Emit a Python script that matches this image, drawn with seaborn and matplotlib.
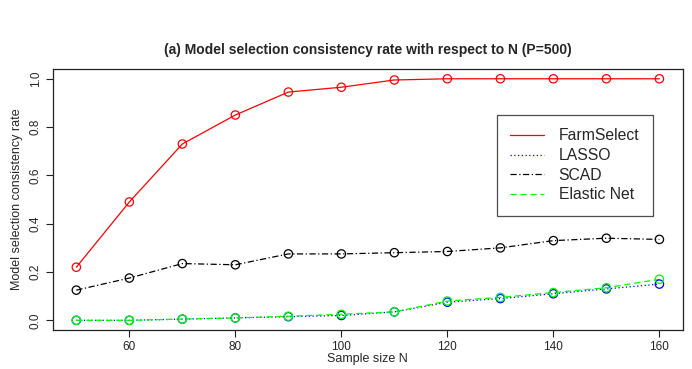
import numpy as np
import pandas as pd
import matplotlib.pyplot as plt
import seaborn as sns

sns.set_theme(style='white')
plt.rcParams['font.family'] = ['Liberation Sans', 'DejaVu Sans']

# data
n = [50, 60, 70, 80, 90, 100, 110, 120, 130, 140, 150, 160]
farmselect = [0.22, 0.49, 0.73, 0.85, 0.945, 0.965, 0.995, 1.0, 1.0, 1.0, 1.0, 1.0]
lasso = [0.0, 0.0, 0.005, 0.01, 0.015, 0.02, 0.035, 0.075, 0.09, 0.11, 0.13, 0.15]
scad = [0.125, 0.175, 0.235, 0.23, 0.275, 0.275, 0.28, 0.285, 0.30, 0.33, 0.34, 0.335]
enet = [0.0, 0.0, 0.005, 0.01, 0.017, 0.025, 0.035, 0.08, 0.095, 0.115, 0.135, 0.17]

methods = ['FarmSelect', 'LASSO', 'SCAD', 'Elastic Net']
colors = ['#ff0000', '#0000ff', '#000000', '#00ff00']
styles = ['-', (0, (1, 2)), (0, (5, 2, 1, 2)), (0, (5, 3))]

df = pd.DataFrame({'N': n * 4,
                   'rate': farmselect + lasso + scad + enet,
                   'method': np.repeat(methods, len(n))})

fig = plt.figure(figsize=(6.92, 3.69), dpi=100)
ax = fig.add_axes([0.0766, 0.1057, 0.910, 0.707])

for m, c, ls in zip(methods, colors, styles):
    sub = df[df['method'] == m]
    sns.lineplot(x='N', y='rate', data=sub, ax=ax, color=c, linewidth=0.9,
                 linestyle=ls, label=m)
    ax.scatter(sub['N'], sub['rate'], s=36, facecolors='none', edgecolors=c,
               linewidths=0.9, zorder=3)

ax.set_xlim(45.6, 164.4)
ax.set_ylim(-0.04, 1.04)
ax.set_xticks([60, 80, 100, 120, 140, 160])
ax.set_yticks([0.0, 0.2, 0.4, 0.6, 0.8, 1.0])
ax.set_yticklabels(['0.0', '0.2', '0.4', '0.6', '0.8', '1.0'], rotation=90, va='center')
ax.tick_params(axis='both', direction='out', length=5, width=0.8, labelsize=8.5,
               bottom=True, left=True, color='#222222', pad=3)
for s in ax.spines.values():
    s.set_color('#222222')
    s.set_linewidth(0.9)

ax.set_xlabel('Sample size N', fontsize=9, labelpad=0)
ax.set_ylabel('Model selection consistency rate', fontsize=9, labelpad=5)
ax.set_title('(a) Model selection consistency rate with respect to N (P=500)',
             fontsize=10, fontweight='bold', pad=11)

leg = ax.legend(loc='upper right', bbox_to_anchor=(0.952, 0.824), fontsize=11.3,
                frameon=True, fancybox=False, handlelength=2.2, handletextpad=0.9,
                borderpad=0.85, labelspacing=0.3, borderaxespad=0)
leg.get_frame().set_edgecolor('#222222')
leg.get_frame().set_linewidth(0.9)

fig.savefig('out.png', dpi=100)
